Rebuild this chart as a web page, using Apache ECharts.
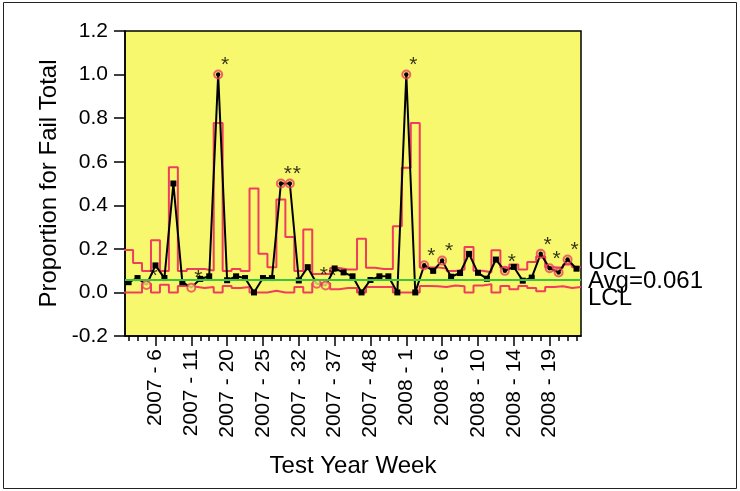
<!DOCTYPE html>
<html><head><meta charset="utf-8">
<script src="https://cdn.jsdelivr.net/npm/echarts@6/dist/echarts.min.js"></script>
<style>html,body{margin:0;padding:0;background:#fff}#c{width:740px;height:491px}</style>
</head><body><div id="c"></div>
<script>
// ---- data ----
const weeks = ['2007 - 3','2007 - 4','2007 - 5','2007 - 6','2007 - 7','2007 - 8','2007 - 10','2007 - 11',
  '2007 - 13','2007 - 15','2007 - 17','2007 - 20','2007 - 21','2007 - 22','2007 - 24','2007 - 25',
  '2007 - 27','2007 - 29','2007 - 30','2007 - 32','2007 - 33','2007 - 34','2007 - 36','2007 - 37',
  '2007 - 40','2007 - 43','2007 - 45','2007 - 48','2007 - 49','2007 - 50','2007 - 51','2008 - 1',
  '2008 - 2','2008 - 3','2008 - 5','2008 - 6','2008 - 7','2008 - 8','2008 - 9','2008 - 10',
  '2008 - 11','2008 - 12','2008 - 13','2008 - 14','2008 - 15','2008 - 16','2008 - 18','2008 - 19',
  '2008 - 20','2008 - 21','2008 - 22'];
const tickLabels = ['2007 - 6','2007 - 11','2007 - 20','2007 - 25','2007 - 32','2007 - 37',
  '2007 - 48','2008 - 1','2008 - 6','2008 - 10','2008 - 14','2008 - 19'];
const proportion = [0.047,0.066,0.034,0.124,0.066,0.5,0.047,0.022,0.062,0.074,
  1.0,0.056,0.074,0.066,0,0.066,0.066,0.5,0.5,0.055,
  0.116,0.04,0.032,0.11,0.092,0.074,0,0.057,0.074,0.074,
  0,1.0,0,0.125,0.099,0.146,0.072,0.089,0.177,0.09,
  0.063,0.151,0.099,0.117,0.054,0.068,0.177,0.111,0.092,0.151,
  0.109];
const ucl = [0.195,0.135,0.098,0.240,0.098,0.575,0.098,0.108,0.108,0.100,
  0.778,0.098,0.108,0.098,0.477,0.177,0.116,0.427,0.254,0.098,
  0.289,0.085,0.085,0.112,0.105,0.105,0.246,0.113,0.108,0.108,
  0.304,0.572,0.778,0.115,0.115,0.110,0.098,0.105,0.208,0.100,
  0.093,0.194,0.113,0.128,0.105,0.140,0.165,0.116,0.113,0.128,
  0.116];
const lcl = [0,0,0.040,0,0.035,0,0.030,0.026,0.020,0.025,
  0,0.030,0.020,0.025,0,0,0.008,0,0,0.025,
  0,0.042,0.042,0.015,0.020,0.020,0,0.025,0.025,0.025,
  0,0,0,0.030,0.028,0.025,0.032,0.028,0,0.032,
  0.038,0,0.030,0.015,0.030,0.020,0.005,0.025,0.028,0.020,
  0.025];
const avg = 0.061;
const outIdx = [2,7,10,17,18,21,22,31,33,35,42,46,47,48,49];
const openIdx = [2,7,21,22];
const testIdx = [2,7,10,17,18,21,22,31,33,35,42,46,47,49];

// ---- chart ----
const FONT = "'Liberation Sans', Arial, sans-serif";
const YELLOW = '#F8F86E';
const RED = '#EE3D5F';
const GREEN = '#3BC43B';
const allIdx = weeks.map((_, i) => i);
const labelIdx = tickLabels.map(t => weeks.indexOf(t));
const stepPts = arr => { const o = []; arr.forEach((v, i) => { o.push([i - 0.5, v], [i + 0.5, v]); }); return o; };

const chart = echarts.init(document.getElementById('c'), null, {renderer: 'canvas'});
const xCommon = {type: 'value', min: -0.4, max: 50.5, position: 'bottom', splitLine: {show: false}};
chart.setOption({
  animation: false,
  grid: {left: 125, top: 31, width: 456, height: 305, show: true, backgroundColor: YELLOW,
         borderColor: '#000', borderWidth: 1.5, containLabel: false},
  xAxis: [
    Object.assign({}, xCommon, {
      axisLine: {show: true, onZero: false, lineStyle: {color: '#000', width: 1.5}},
      axisTick: {show: true, length: 5, customValues: allIdx, lineStyle: {color: '#000', width: 1.5}},
      axisLabel: {show: false}
    }),
    Object.assign({}, xCommon, {
      axisLine: {show: false, onZero: false},
      axisTick: {show: true, length: 10, customValues: labelIdx, lineStyle: {color: '#000', width: 1.5}},
      axisLabel: {show: true, customValues: labelIdx, rotate: 90, margin: 13, fontSize: 21,
                  color: '#000', fontFamily: FONT, formatter: v => weeks[Math.round(v)]},
      name: 'Test Year Week', nameLocation: 'middle', nameGap: 118,
      nameTextStyle: {fontSize: 24, color: '#000', fontFamily: FONT}
    })
  ],
  yAxis: {
    type: 'value', min: -0.2, max: 1.2, interval: 0.2,
    axisLine: {show: true, onZero: false, lineStyle: {color: '#000', width: 1.5}},
    axisTick: {show: true, length: 11, lineStyle: {color: '#000', width: 1.5}},
    axisLabel: {fontSize: 21, color: '#000', fontFamily: FONT, margin: 17,
                formatter: v => (Math.abs(v) < 1e-9 ? 0 : v).toFixed(1)},
    splitLine: {show: false},
    name: 'Proportion for Fail Total', nameLocation: 'middle', nameGap: 64,
    nameTextStyle: {fontSize: 24, color: '#000', fontFamily: FONT}
  },
  series: [
    {name: 'UCL', type: 'line', xAxisIndex: 0, data: stepPts(ucl), symbol: 'none', z: 2,
     lineStyle: {color: RED, width: 2}, silent: true,
     markLine: {silent: true, symbol: ['none', 'none'], label: {show: false},
                lineStyle: {color: GREEN, width: 2, type: 'solid'}, data: [{yAxis: avg}]}},
    {name: 'LCL', type: 'line', xAxisIndex: 0, data: stepPts(lcl), symbol: 'none', z: 2,
     lineStyle: {color: RED, width: 2}, silent: true},
    {name: 'Proportion', type: 'line', xAxisIndex: 0, z: 3,
     data: proportion.map((v, i) => ({
       value: [i, v],
       symbol: outIdx.includes(i) ? (openIdx.includes(i) ? 'none' : 'circle') : 'rect',
       symbolSize: outIdx.includes(i) ? 4.5 : 6
     })),
     showAllSymbol: true,
     lineStyle: {color: '#000', width: 2}, itemStyle: {color: '#000'}},
    {name: 'Flag', type: 'scatter', xAxisIndex: 0, z: 4, symbol: 'circle', symbolSize: 8,
     data: outIdx.map(i => ({value: [i, proportion[i]],
       itemStyle: {color: openIdx.includes(i) ? YELLOW : 'rgba(0,0,0,0)'}})),
     itemStyle: {borderColor: RED, borderWidth: 2}},
    {name: 'Test', type: 'scatter', xAxisIndex: 0, z: 5, symbol: 'circle', symbolSize: 1,
     data: testIdx.map(i => [i, proportion[i]]),
     itemStyle: {color: 'rgba(0,0,0,0)'},
     label: {show: true, formatter: '*', position: 'inside', offset: [7, -9],
             fontSize: 21, color: '#000', fontFamily: FONT}}
  ],
  graphic: [
    {type: 'rect', shape: {x: 3.5, y: 2.5, width: 733, height: 486}, z: 0,
     style: {fill: 'none', stroke: '#222', lineWidth: 1}},
    {type: 'text', x: 588, y: 262, style: {text: 'UCL', font: "24px 'Liberation Sans', Arial, sans-serif",
     fill: '#000', textVerticalAlign: 'middle', verticalAlign: 'middle'}},
    {type: 'text', x: 588, y: 281, style: {text: 'Avg=' + avg.toFixed(3), font: "24px 'Liberation Sans', Arial, sans-serif",
     fill: '#000', textVerticalAlign: 'middle', verticalAlign: 'middle'}},
    {type: 'text', x: 588, y: 298, style: {text: 'LCL', font: "24px 'Liberation Sans', Arial, sans-serif",
     fill: '#000', textVerticalAlign: 'middle', verticalAlign: 'middle'}}
  ]
});
</script></body></html>
